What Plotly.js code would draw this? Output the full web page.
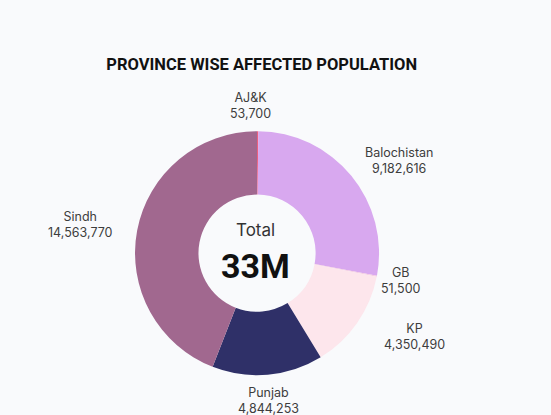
<!DOCTYPE html>
<html>
<head>
<meta charset="utf-8">
<script src="https://cdn.plot.ly/plotly-3.0.1.min.js"></script>
<style>
html,body{margin:0;padding:0;background:#f9fafc;}
#chart{width:551px;height:415px;}
</style>
</head>
<body>
<div id="chart"></div>
<script>
const provinces = ["AJ&K", "Balochistan", "GB", "KP", "Punjab", "Sindh"];
const affected = [53700, 9182616, 51500, 4350490, 4844253, 14563770];
const sliceColors = ["#ef5a7a", "#d8a8ef", "#f4c9e0", "#fde6ec", "#2f3068", "#a1688f"];
const totalLabel = "Total";
const totalValue = "33M";
const chartTitle = "PROVINCE WISE AFFECTED POPULATION";

// label anchor positions (paper coords) for each province
const labelPos = [
  [0.455, 0.745], [0.725, 0.614], [0.727, 0.323], [0.752, 0.188], [0.487, 0.036], [0.146, 0.458]
];

const fmt = v => v.toLocaleString("en-US");

const annotations = provinces.map((p, i) => ({
  x: labelPos[i][0], y: labelPos[i][1], xref: "paper", yref: "paper",
  text: p + "<br>" + fmt(affected[i]), showarrow: false,
  xanchor: "center", yanchor: "middle", align: "center",
  font: {family: "Inter, Roboto, sans-serif", size: 12.5, color: "#3d3d3d"}
}));
annotations.push({
  x: 0.464, y: 0.417, xref: "paper", yref: "paper", text: totalLabel, showarrow: false,
  yanchor: "bottom",
  font: {family: "Inter, Roboto, sans-serif", size: 17, color: "#333"}
});
annotations.push({
  x: 0.464, y: 0.413, xref: "paper", yref: "paper", text: "<b>" + totalValue + "</b>", showarrow: false,
  yanchor: "top",
  font: {family: "Roboto, sans-serif", size: 34, color: "#111"}
});

const data = [{
  type: "pie",
  labels: provinces,
  values: affected,
  hole: 0.48,
  sort: false,
  direction: "clockwise",
  rotation: 0,
  textinfo: "none",
  hoverinfo: "label+value",
  marker: {colors: sliceColors, line: {width: 0}},
  domain: {x: [0.245, 0.688], y: [0.096, 0.684]},
  showlegend: false
}];

const layout = {
  width: 551, height: 415,
  margin: {l: 0, r: 0, t: 0, b: 0},
  paper_bgcolor: "#f9fafc",
  plot_bgcolor: "#f9fafc",
  title: {
    text: "<b>" + chartTitle + "</b>",
    x: 0.475, xanchor: "center", y: 0.845, yanchor: "middle",
    font: {family: "Roboto, sans-serif", size: 16.5, color: "#111"}
  },
  annotations: annotations
};

Plotly.newPlot("chart", data, layout, {displayModeBar: false, staticPlot: true});
</script>
</body>
</html>
